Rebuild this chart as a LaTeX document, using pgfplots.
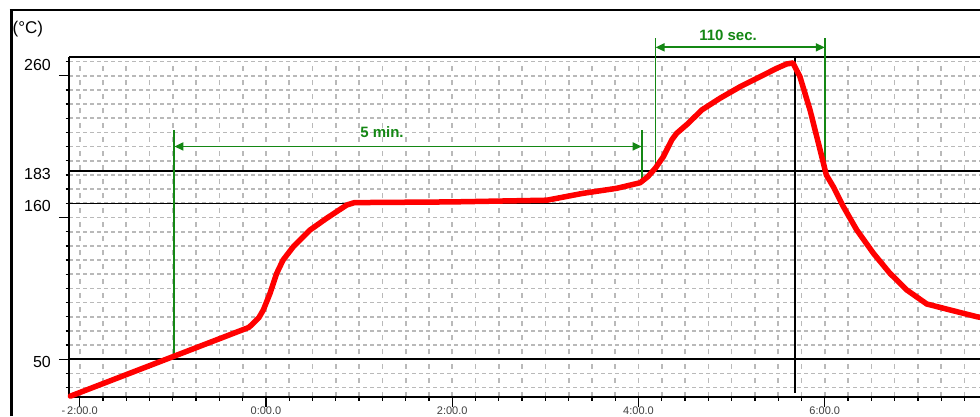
\documentclass[border=0pt]{standalone}
\usepackage{fontspec}
\setmainfont{Liberation Sans}
\usepackage{pgfplots}
\pgfplotsset{compat=1.18}
\usetikzlibrary{arrows.meta}
\definecolor{annot}{RGB}{20,135,20}
\definecolor{gridc}{RGB}{185,185,185}
\begin{document}
\begin{tikzpicture}
\useasboundingbox (0,0) rectangle (980pt,416pt);
\fill[white] (0,0) rectangle (980pt,416pt);
\begin{axis}[
 at={(69pt,19pt)}, anchor=south west, scale only axis,
 width=911pt, height=340pt,
 xmin=-126.9, xmax=460, ymin=23.4, ymax=263.2,
 axis x line=box, axis y line=left,
 axis line style={-, black, line width=1.6pt},
 xtick pos=left,
 xtick={-120,0,120,240,360},
 xticklabels={-\,2:00.0,0:00.0,2:00.0,4:00.0,6:00.0},
 minor xtick={-120,-105,...,450},
 ytick={50,150,250}, yticklabels={},
 minor ytick={30,40,...,260},
 tick align=outside,
 major tick length=10pt, minor tick length=3.5pt,
 tick style={black, line width=1.3pt},
 grid=both,
 major grid style={gridc, line width=1.7pt},
 minor grid style={gridc, line width=1.7pt},
 x grid style={dash pattern=on 5pt off 9.18pt},
 y grid style={dash pattern=on 4pt off 3pt},
 extra y ticks={50,160,183,260},
 extra y tick labels={50,160,183,260},
 extra y tick style={major tick length=0pt, grid=none,
   yticklabel style={anchor=east, inner sep=0pt, xshift=-18pt, yshift=-3pt}},
 yticklabel style={font=\fontsize{16}{16}\selectfont},
 xticklabel style={font=\fontsize{11}{11}\selectfont, text=black!75, inner sep=0pt},
 clip=false,
]
% reference lines
\addplot[black, line width=1.6pt] coordinates {(-126.9,50)(460,50)};
\addplot[black, line width=1.6pt] coordinates {(-126.9,160)(460,160)};
\addplot[black, line width=1.6pt] coordinates {(-126.9,183)(460,183)};
\addplot[black, line width=1.6pt] coordinates {(340.9,26.4)(340.9,263.2)};
% green annotation lines
\addplot[annot, line width=1.8pt] coordinates {(-59,51.5)(-59,211.7)};
\addplot[annot, line width=1.8pt] coordinates {(242,176)(242,211.7)};
\addplot[annot, line width=1.8pt] coordinates {(251,185)(251,276.4)};
\addplot[annot, line width=1.8pt] coordinates {(360,182)(360,276.4)};
\draw[annot, line width=1.8pt, {Triangle[length=9pt,width=8pt]}-{Triangle[length=9pt,width=8pt]}]
  (axis cs:-59,200.1) -- (axis cs:242,200.1);
\draw[annot, line width=1.8pt, {Triangle[length=9pt,width=8pt]}-{Triangle[length=9pt,width=8pt]}]
  (axis cs:251,270) -- (axis cs:360,270);
% temperature profile
\addplot[red, line width=5.5pt, line join=round, line cap=round] table {
t T
-126 24
-11 72.5
-8.2 75.4
-4.5 79.5
-1.7 84.8
2.6 96.5
6.9 110.6
11 120
17.6 129.4
28.4 141.2
39 149.4
52 158.8
57 160.5
120 161
181 162.2
204 167
226 170.6
241 174.5
246 178.8
251 185
256 192.9
261.4 204.7
264.6 209.4
272 216.4
280.7 225.8
292.5 234.1
305.4 242.2
318.3 249.3
329 255.2
335.5 258.3
339.5 259
344 249.3
350.5 225.8
357 197.6
361 180
365.5 171.7
372 157.6
380.6 141.2
391.3 124.8
402 110.6
412.8 98.9
425.7 89
440.7 84.8
458 80
460 79.6
};
\node[text=annot, font=\bfseries\fontsize{15}{15}\selectfont] at (axis cs:74.7,210.3) {5 min.};
\node[text=annot, font=\bfseries\fontsize{15}{15}\selectfont] at (axis cs:297.7,278.7) {110 sec.};
\end{axis}
\draw[line width=3pt] (11pt,0) -- (11pt,406.75pt);
\draw[line width=1.5pt] (9.5pt,406pt) -- (980pt,406pt);
\node[font=\fontsize{17}{17}\selectfont, anchor=west, inner sep=0pt] at (12.5pt,387pt) {(°C)};
\end{tikzpicture}
\end{document}
